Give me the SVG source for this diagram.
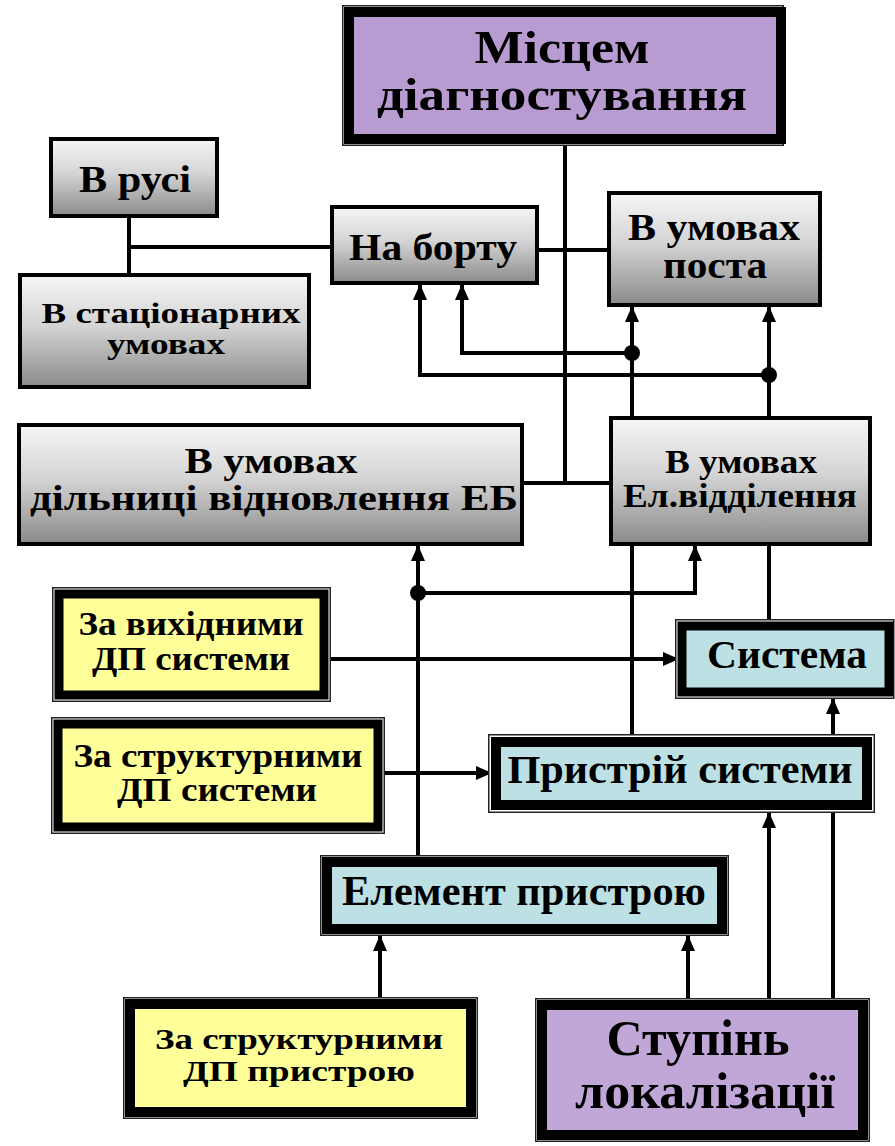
<svg xmlns="http://www.w3.org/2000/svg" width="895" height="1146" viewBox="0 0 895 1146">
<defs>
<linearGradient id="gray" x1="0" y1="0" x2="0" y2="1">
<stop offset="0" stop-color="#f6f6f6"/>
<stop offset="0.45" stop-color="#d4d4d4"/>
<stop offset="1" stop-color="#8a8a8a"/>
</linearGradient>
<marker id="arr" viewBox="0 0 16 14" refX="15" refY="7" markerWidth="16" markerHeight="14" markerUnits="userSpaceOnUse" orient="auto">
<path d="M0,0 L16,7 L0,14 Z" fill="#000"/>
</marker>
<style>
.t{font-weight:bold;fill:#000;text-anchor:middle}
.ln{fill:none;stroke:#000;stroke-width:4}
.ar{fill:none;stroke:#000;stroke-width:4;marker-end:url(#arr)}
.dot{fill:#000}
.gbox{fill:url(#gray);stroke:#000;stroke-width:4}
.outer{fill:#fff;stroke:#222;stroke-width:1.5}
.band{stroke:#000}
.purple{fill:#b89bd0}
.purple2{fill:#c1a7d8}
.yellow{fill:#ffff99}
.cyan{fill:#bce0e4}
</style>
</defs>
<rect width="895" height="1146" fill="#fff"/>

<g id="connectors">
<path class="ln" d="M565,146 V483 M524,483 H609"/>
<path class="ln" d="M129,217 V273 M129,247 H330"/>
<path class="ln" d="M539,250 H607"/>
<path class="ar" d="M632,416 V307"/>
<path class="ar" d="M769,416 V307"/>
<path class="ar" d="M632,353 H462 V285"/>
<path class="ar" d="M769,375 H420 V285"/>
<circle class="dot" cx="632" cy="353" r="8"/>
<circle class="dot" cx="769" cy="375" r="8"/>
<path class="ln" d="M632,546 V734"/>
<path class="ln" d="M769,546 V619"/>
<path class="ar" d="M418,855 V546"/>
<path class="ar" d="M418,593 H695 V546"/>
<circle class="dot" cx="418" cy="593" r="8"/>
<path class="ar" d="M331,659 H678"/>
<path class="ar" d="M385,773 H491"/>
<path class="ar" d="M833,998 V699"/>
<path class="ar" d="M769,998 V813"/>
<path class="ar" d="M688,998 V936"/>
<path class="ar" d="M380,997 V936"/>
</g>

<g id="n-title">
<rect class="outer" x="342.75" y="5.75" width="440.5" height="139.5"/>
<rect class="band purple" x="349" y="12" width="432" height="127" stroke-width="10"/>
<text class="t" font-family="'Liberation Serif', serif" x="562" y="63" font-size="46" textLength="175" lengthAdjust="spacingAndGlyphs">Місцем</text>
<text class="t" font-family="'Liberation Serif', serif" x="562" y="110" font-size="46" textLength="370" lengthAdjust="spacingAndGlyphs">діагностування</text>
</g>

<g id="n-rusi">
<rect class="gbox" x="51" y="139" width="166" height="77"/>
<text class="t" font-family="'Liberation Serif', serif" x="135" y="192" font-size="38" textLength="112" lengthAdjust="spacingAndGlyphs">В русі</text>
</g>

<g id="n-borty">
<rect class="gbox" x="332" y="207" width="205" height="76"/>
<text class="t" font-family="'Liberation Serif', serif" x="433" y="260" font-size="38" textLength="168" lengthAdjust="spacingAndGlyphs">На борту</text>
</g>

<g id="n-posta">
<rect class="gbox" x="609" y="193" width="211" height="112"/>
<text class="t" font-family="'Liberation Serif', serif" x="714" y="240" font-size="37" textLength="172" lengthAdjust="spacingAndGlyphs">В умовах</text>
<text class="t" font-family="'Liberation Serif', serif" x="715" y="278" font-size="37" textLength="104" lengthAdjust="spacingAndGlyphs">поста</text>
</g>

<g id="n-stat">
<rect class="gbox" x="20" y="275" width="289" height="112"/>
<text class="t" font-family="'Liberation Serif', serif" x="171" y="323" font-size="30" textLength="259" lengthAdjust="spacingAndGlyphs">В стаціонарних</text>
<text class="t" font-family="'Liberation Serif', serif" x="166" y="354" font-size="30" textLength="118" lengthAdjust="spacingAndGlyphs">умовах</text>
</g>

<g id="n-dilnytsi">
<rect class="gbox" x="19" y="425" width="503" height="119"/>
<text class="t" font-family="'Liberation Serif', serif" x="271" y="473" font-size="36" textLength="173" lengthAdjust="spacingAndGlyphs">В умовах</text>
<text class="t" font-family="'Liberation Serif', serif" x="274" y="510" font-size="36" textLength="488" lengthAdjust="spacingAndGlyphs">дільниці відновлення ЕБ</text>
</g>

<g id="n-elviddil">
<rect class="gbox" x="611" y="418" width="259" height="126"/>
<text class="t" font-family="'Liberation Serif', serif" x="741" y="473" font-size="33" textLength="152" lengthAdjust="spacingAndGlyphs">В умовах</text>
<text class="t" font-family="'Liberation Serif', serif" x="740" y="507" font-size="33" textLength="234" lengthAdjust="spacingAndGlyphs">Ел.відділення</text>
</g>

<g id="n-vykhidni">
<rect class="outer" x="52.75" y="587.75" width="277.5" height="113.5"/>
<rect class="band yellow" x="59" y="594" width="265" height="101" stroke-width="9"/>
<text class="t" font-family="'Liberation Serif', serif" x="191" y="635" font-size="33" textLength="225" lengthAdjust="spacingAndGlyphs">За вихідними</text>
<text class="t" font-family="'Liberation Serif', serif" x="191" y="670" font-size="33" textLength="198" lengthAdjust="spacingAndGlyphs">ДП системи</text>
</g>

<g id="n-systema">
<rect class="outer" x="675.75" y="619.75" width="218" height="78.5"/>
<rect class="band cyan" x="682" y="626" width="207" height="66" stroke-width="9"/>
<text class="t" font-family="'Liberation Serif', serif" x="787" y="668" font-size="40" textLength="160" lengthAdjust="spacingAndGlyphs">Система</text>
</g>

<g id="n-struct-sys">
<rect class="outer" x="51.75" y="717.75" width="332.5" height="115.5"/>
<rect class="band yellow" x="58" y="724" width="320" height="103" stroke-width="9"/>
<text class="t" font-family="'Liberation Serif', serif" x="218" y="767" font-size="33" textLength="289" lengthAdjust="spacingAndGlyphs">За структурними</text>
<text class="t" font-family="'Liberation Serif', serif" x="217" y="801" font-size="33" textLength="200" lengthAdjust="spacingAndGlyphs">ДП системи</text>
</g>

<g id="n-prystrii">
<rect class="outer" x="488.75" y="734.75" width="385.5" height="77.5"/>
<rect class="band cyan" x="496" y="742" width="371" height="63" stroke-width="10"/>
<text class="t" font-family="'Liberation Serif', serif" x="680" y="783" font-size="40" textLength="345" lengthAdjust="spacingAndGlyphs">Пристрій системи</text>
</g>

<g id="n-element">
<rect class="outer" x="320.75" y="855.75" width="407.5" height="79.5"/>
<rect class="band cyan" x="327" y="862" width="395" height="67" stroke-width="10"/>
<text class="t" font-family="'Liberation Serif', serif" x="524" y="905" font-size="42" textLength="364" lengthAdjust="spacingAndGlyphs">Елемент пристрою</text>
</g>

<g id="n-struct-dev">
<rect class="outer" x="123.75" y="997.75" width="353.5" height="120.5"/>
<rect class="band yellow" x="130" y="1004" width="341" height="108" stroke-width="10"/>
<text class="t" font-family="'Liberation Serif', serif" x="299" y="1049" font-size="29" textLength="288" lengthAdjust="spacingAndGlyphs">За структурними</text>
<text class="t" font-family="'Liberation Serif', serif" x="299" y="1081" font-size="29" textLength="232" lengthAdjust="spacingAndGlyphs">ДП пристрою</text>
</g>

<g id="n-stupin">
<rect class="outer" x="535.75" y="998.75" width="333.5" height="142.5"/>
<rect class="band purple2" x="542" y="1005" width="321" height="130" stroke-width="10"/>
<text class="t" font-family="'Liberation Serif', serif" x="698" y="1055" font-size="50" textLength="183" lengthAdjust="spacingAndGlyphs">Ступінь</text>
<text class="t" font-family="'Liberation Serif', serif" x="705" y="1108" font-size="50" textLength="260" lengthAdjust="spacingAndGlyphs">локалізації</text>
</g>
</svg>
